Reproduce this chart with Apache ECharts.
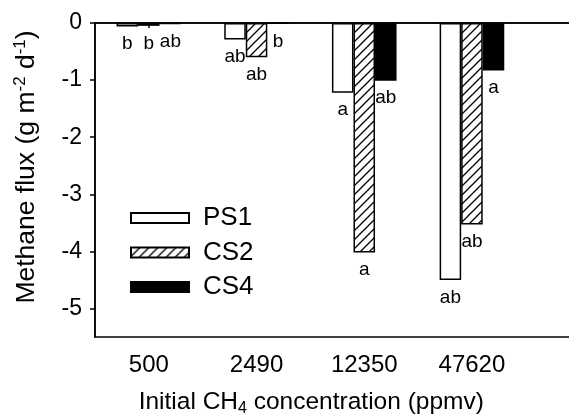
<!DOCTYPE html>
<html>
<head>
<meta charset="utf-8">
<script src="https://cdn.jsdelivr.net/npm/echarts@6/dist/echarts.min.js"></script>
<style>html,body{margin:0;padding:0;background:#fff}#c{width:569px;height:417px}</style>
</head>
<body>
<div id="c"></div>
<script>
const categories = ['500', '2490', '12350', '47620'];
const seriesNames = ['PS1', 'CS2', 'CS4'];
const valuesPS1 = [-0.06, -0.29, -1.22, -4.50];
const valuesCS2 = [-0.05, -0.60, -4.02, -3.53];
const valuesCS4 = [-0.02, -0.01, -1.01, -0.83];
const lettersPS1 = ['b', 'ab', 'a', 'ab'];
const lettersCS2 = ['b', 'ab', 'a', 'ab'];
const lettersCS4 = ['ab', 'b', 'ab', 'a'];
const yTicks = [0, -1, -2, -3, -4, -5];

const FONT = 'Liberation Sans, Arial, sans-serif';

function hatch() {
  const s = 9;
  const c = document.createElement('canvas');
  c.width = s; c.height = s;
  const g = c.getContext('2d');
  g.fillStyle = '#fff';
  g.fillRect(0, 0, s, s);
  g.strokeStyle = '#000';
  g.lineWidth = 1.3;
  g.beginPath();
  g.moveTo(-1, s + 1); g.lineTo(s + 1, -1);
  g.moveTo(-2, 2); g.lineTo(2, -2);
  g.moveTo(s - 2, s + 2); g.lineTo(s + 2, s - 2);
  g.stroke();
  return c;
}

function mk(name, values, letters, color) {
  return {
    name: name,
    type: 'bar',
    barWidth: '20%',
    barGap: '0%',
    itemStyle: { color: color, borderColor: '#000', borderWidth: 1.5 },
    label: {
      show: true,
      position: 'bottom',
      distance: 8,
      color: '#000',
      fontFamily: FONT,
      fontSize: 19,
      formatter: function (p) { return letters[p.dataIndex]; }
    },
    data: values
  };
}

// axis extends beyond the visible right edge (figure is cropped there)
const axisCats = categories.concat(['']);

const chart = echarts.init(document.getElementById('c'), null, { renderer: 'canvas' });
chart.setOption({
  animation: false,
  backgroundColor: '#fff',
  grid: { left: 95, top: 23, right: -64.5, bottom: 80, outerBoundsMode: 'none', containLabel: false, show: true, borderColor: '#000', borderWidth: 1.5, backgroundColor: 'transparent' },
  legend: {
    orient: 'vertical',
    left: 125,
    top: 200,
    itemWidth: 58,
    itemHeight: 10,
    itemGap: 8.5,
    icon: 'rect',
    textStyle: { color: '#000', fontFamily: FONT, fontSize: 26, lineHeight: 24, padding: [0, 0, 0, 9] },
    data: seriesNames
  },
  xAxis: {
    type: 'category',
    data: axisCats,
    axisLine: { lineStyle: { color: '#000', width: 1.5 } },
    axisTick: { show: true, alignWithLabel: true, length: 5, lineStyle: { color: '#000', width: 1.5 } },
    axisLabel: { color: '#000', fontFamily: FONT, fontSize: 24, margin: 16 },
    name: '{a|Initial CH}{s|4}{a| concentration (ppmv)}',
    nameLocation: 'middle',
    nameGap: 50,
    nameTextStyle: {
      padding: [0, 106, 0, 0],
      rich: {
        a: { fontFamily: FONT, fontSize: 24.5, color: '#000', lineHeight: 30 },
        s: { fontFamily: FONT, fontSize: 16, color: '#000', lineHeight: 16, verticalAlign: 'bottom' }
      }
    }
  },
  yAxis: {
    type: 'value',
    min: -5.5,
    max: 0,
    splitLine: { show: false },
    axisLine: { show: true, lineStyle: { color: '#000', width: 1.5 } },
    axisTick: { show: true, length: 5, customValues: yTicks, lineStyle: { color: '#000', width: 1.5 } },
    axisLabel: { color: '#000', fontFamily: FONT, fontSize: 23, margin: 13, customValues: yTicks },
    name: '{a|Methane flux (g m}{p|-2}{a| d}{p|-1}{a|)}',
    nameLocation: 'middle',
    nameGap: 53,
    nameTextStyle: {
      padding: [0, 0, 0, 26],
      rich: {
        a: { fontFamily: FONT, fontSize: 26.5, color: '#000', lineHeight: 30 },
        p: { fontFamily: FONT, fontSize: 17, color: '#000', lineHeight: 16, verticalAlign: 'top' }
      }
    }
  },
  series: [
    mk('PS1', valuesPS1, lettersPS1, '#fff'),
    mk('CS2', valuesCS2, lettersCS2, { image: hatch(), repeat: 'repeat' }),
    mk('CS4', valuesCS4, lettersCS4, '#000')
  ]
});
</script>
</body>
</html>
